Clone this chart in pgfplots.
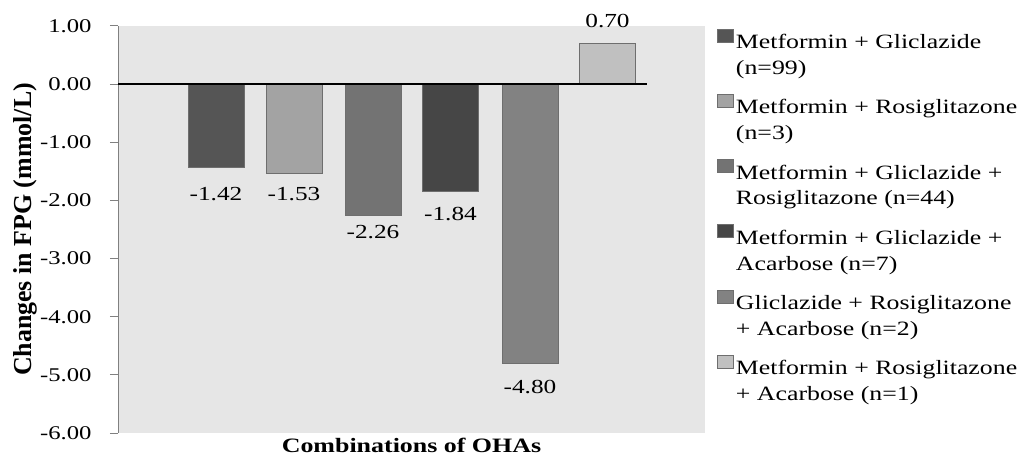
\documentclass[border=0pt]{standalone}
\usepackage{pgfplots}
\pgfplotsset{compat=1.18}
\usepackage{fontspec}
\setmainfont{Liberation Serif}[FakeStretch=1.27]
\newfontfamily\ylabfont{Liberation Serif}

\definecolor{barA}{HTML}{555555}
\definecolor{barB}{HTML}{A3A3A3}
\definecolor{barC}{HTML}{737373}
\definecolor{barD}{HTML}{464646}
\definecolor{barE}{HTML}{828282}
\definecolor{barF}{HTML}{C0C0C0}
\definecolor{bdr}{HTML}{6E6E6E}
\definecolor{bg}{HTML}{E6E6E6}

% two-line legend text, baseline on the last line
\newcommand{\two}[2]{\begin{tabular}[b]{@{}l@{}}#1\\#2\end{tabular}}

\begin{document}
\begin{tikzpicture}
\useasboundingbox (0,0) rectangle (1018bp,454bp);
\begin{axis}[
    name=ax,
    at={(118bp,21bp)}, anchor=south west,
    scale only axis, width=587bp, height=407bp,
    xmin=118, xmax=705, ymin=-6, ymax=1,
    axis x line=none, axis y line*=left,
    axis line style={-, draw=gray, line width=1bp},
    axis background/.style={fill=bg},
    ytick={-6,-5,...,1},
    tick align=outside, major tick length=8bp,
    ytick style={draw=gray, line width=1bp},
    yticklabel style={font=\fontsize{19.5}{20}\selectfont, xshift=-15bp,
        /pgf/number format/.cd, fixed, fixed zerofill, precision=2, assume math mode=true},
    ylabel={\ylabfont\bfseries Changes in FPG (mmol/L)},
    every axis y label/.style={at={(axis description cs:-0.157,0.5)}, rotate=90, anchor=center,
        font=\fontsize{26}{28}\selectfont},
    ybar, bar width=56, bar shift=0pt,
    lbl/.style={nodes near coords,
        every node near coord/.append style={font=\fontsize{20}{22}\selectfont, inner xsep=0pt, inner ysep=#1,
            /pgf/number format/.cd, fixed, fixed zerofill, precision=2, assume math mode=true}},
    legend image code/.code={\draw[#1, draw=bdr, line width=0.8bp] (0bp,11bp) rectangle (16bp,24bp);},
    legend style={at={(axis description cs:1.0204,0.9933)}, anchor=north west,
        draw=none, fill=none, inner sep=0pt, row sep=18bp,
        nodes={inner sep=0pt}, font=\fontsize{20.4}{26}\selectfont,
        /tikz/every odd column/.append style={column sep=2bp}},
    legend cell align=left,
]
\addplot[fill=barA, draw=bdr, lbl=20bp] coordinates {(216,-1.42)};
\addlegendentry{\two{Metformin + Gliclazide}{(n=99)}}
\addplot[fill=barB, draw=bdr, lbl=14bp] coordinates {(294,-1.53)};
\addlegendentry{\two{Metformin + Rosiglitazone}{(n=3)}}
\addplot[fill=barC, draw=bdr, lbl=9.5bp] coordinates {(373,-2.26)};
\addlegendentry{\two{Metformin + Gliclazide +}{Rosiglitazone (n=44)}}
\addplot[fill=barD, draw=bdr, lbl=16bp] coordinates {(450.5,-1.84)};
\addlegendentry{\two{Metformin + Gliclazide +}{Acarbose (n=7)}}
\addplot[fill=barE, draw=bdr, lbl=17bp] coordinates {(530,-4.80)};
\addlegendentry{\two{Gliclazide + Rosiglitazone}{+ Acarbose (n=2)}}
\addplot[fill=barF, draw=bdr, lbl=15bp] coordinates {(607.5,0.70)};
\addlegendentry{\two{Metformin + Rosiglitazone}{+ Acarbose (n=1)}}
\addplot[sharp plot, black, line width=1.5bp, forget plot] coordinates {(118,0) (647,0)};
\end{axis}
\node[anchor=base, font=\fontsize{20.5}{22}\selectfont\bfseries] at ([yshift=-19bp]ax.south) {Combinations of OHAs};
\end{tikzpicture}
\end{document}
